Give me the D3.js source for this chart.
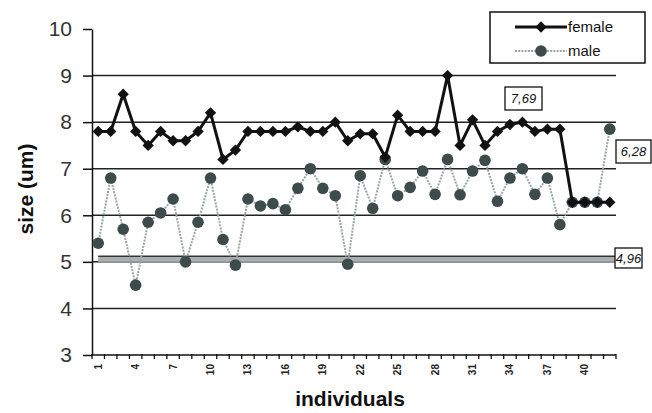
<!DOCTYPE html>
<html>
<head>
<meta charset="utf-8">
<script src="https://d3js.org/d3.v7.min.js"></script>
<style>
  body { margin: 0; background: #fff; }
  text { font-family: "Liberation Sans", Arial, sans-serif; }
</style>
</head>
<body>
<svg id="chart" width="652" height="413"></svg>
<script>
// data
const individuals = [1,2,3,4,5,6,7,8,9,10,11,12,13,14,15,16,17,18,19,20,21,
                     22,23,24,25,26,27,28,29,30,31,32,33,34,35,36,37,38,39,40,41,42];
const female = [7.8,7.8,8.6,7.8,7.5,7.8,7.6,7.6,7.8,8.2,7.2,7.4,7.8,7.8,7.8,7.8,7.9,7.8,7.8,8.0,7.6,
                7.75,7.75,7.25,8.15,7.8,7.8,7.8,9.0,7.5,8.05,7.5,7.8,7.95,8.0,7.8,7.85,7.85,6.28,6.28,6.28,6.28];
const male = [5.4,6.8,5.7,4.5,5.85,6.05,6.35,5.0,5.85,6.8,5.48,4.93,6.35,6.2,6.25,6.12,6.58,7.0,6.58,6.42,4.95,
              6.85,6.15,7.2,6.42,6.6,6.95,6.45,7.2,6.44,6.95,7.18,6.3,6.8,7.0,6.45,6.8,5.8,6.28,6.28,6.28,7.85];
const yTicks = [3,4,5,6,7,8,9,10];
const xTickLabels = [1,4,7,10,13,16,19,22,25,28,31,34,37,40];
const gridValues = [4,5,6,7,8,9];
const refValue = 5.12;
const notes = ["7,69", "6,28", "4,96"];

const svg = d3.select("#chart");
const plotLeft = 92, plotRight = 616, plotTop = 29, plotBottom = 355;

const x = d3.scaleBand().domain(individuals).range([plotLeft, plotRight]);
const bw = x.bandwidth();
const cx = i => x(i) + bw / 2;
const y = d3.scaleLinear().domain([3, 10]).range([plotBottom, plotTop]);

// horizontal grid lines
svg.append("g").selectAll("line")
  .data(gridValues)
  .enter().append("line")
  .attr("x1", plotLeft).attr("x2", plotRight)
  .attr("y1", d => y(d)).attr("y2", d => y(d))
  .attr("stroke", "#222").attr("stroke-width", 1.5);

// double reference line near 5
svg.append("rect")
  .attr("x", cx(1)).attr("width", plotRight - cx(1))
  .attr("y", y(refValue)).attr("height", y(5) - y(refValue))
  .attr("fill", "#a9b0b0");
svg.append("line")
  .attr("x1", cx(1)).attr("x2", plotRight)
  .attr("y1", y(refValue)).attr("y2", y(refValue))
  .attr("stroke", "#333").attr("stroke-width", 1.5);

// y axis
const yAxis = svg.append("g")
  .attr("transform", `translate(${plotLeft},0)`)
  .call(d3.axisLeft(y).tickValues(yTicks).tickFormat(d3.format("d"))
    .tickSize(9).tickSizeOuter(0).tickPadding(11));
yAxis.select(".domain").attr("stroke", "#111").attr("stroke-width", 1.5);
yAxis.selectAll(".tick line").attr("stroke", "#111").attr("stroke-width", 1.5);
yAxis.selectAll(".tick text")
  .style("font-family", "'Liberation Sans', Arial, sans-serif")
  .style("font-size", "21px").attr("fill", "#333");

// x axis: ticks between categories
svg.append("line")
  .attr("x1", plotLeft).attr("x2", plotRight)
  .attr("y1", plotBottom).attr("y2", plotBottom)
  .attr("stroke", "#111").attr("stroke-width", 1.5);
const bounds = individuals.map(d => x(d)).concat([plotRight]);
svg.append("g").selectAll("line")
  .data(bounds)
  .enter().append("line")
  .attr("x1", d => d).attr("x2", d => d)
  .attr("y1", plotBottom - 1).attr("y2", plotBottom + 4)
  .attr("stroke", "#111").attr("stroke-width", 1.3);
svg.append("g").selectAll("text")
  .data(xTickLabels)
  .enter().append("text")
  .attr("x", d => cx(d)).attr("y", 364)
  .attr("transform", d => `rotate(-90,${cx(d)},364)`)
  .attr("text-anchor", "end").attr("dy", "0.35em")
  .style("font-size", "10px").style("font-weight", "bold")
  .attr("fill", "#222")
  .text(d => d);

// axis titles
svg.append("text")
  .attr("transform", "translate(33,189) rotate(-90)")
  .attr("text-anchor", "middle")
  .style("font-size", "21px").style("font-weight", "bold").attr("fill", "#111")
  .text("size (um)");
svg.append("text")
  .attr("x", 350).attr("y", 406)
  .attr("text-anchor", "middle")
  .style("font-size", "21px").style("font-weight", "bold").attr("fill", "#111")
  .text("individuals");

// male series
const maleLine = d3.line().x((d, i) => cx(individuals[i])).y(d => y(d));
svg.append("path")
  .attr("d", maleLine(male))
  .attr("fill", "none").attr("stroke", "#9aa4a4")
  .attr("stroke-width", 2).attr("stroke-dasharray", "2,1.2");
svg.append("g").selectAll("circle")
  .data(male)
  .enter().append("circle")
  .attr("cx", (d, i) => cx(individuals[i])).attr("cy", d => y(d))
  .attr("r", 5.8).attr("fill", "#3e4b4b");

// female series
const femaleLine = d3.line().x((d, i) => cx(individuals[i])).y(d => y(d));
svg.append("path")
  .attr("d", femaleLine(female))
  .attr("fill", "none").attr("stroke", "#111").attr("stroke-width", 3);
const diamond = d3.symbol(d3.symbolSquare, 64);
svg.append("g").selectAll("path")
  .data(female)
  .enter().append("path")
  .attr("d", diamond)
  .attr("transform", (d, i) => `translate(${cx(individuals[i])},${y(d)}) rotate(45)`)
  .attr("fill", "#111");

// annotation boxes
function note(label, bx, by, w, h) {
  svg.append("rect")
    .attr("x", bx).attr("y", by).attr("width", w).attr("height", h)
    .attr("fill", "#fff").attr("stroke", "#111").attr("stroke-width", 1.3);
  svg.append("text")
    .attr("x", bx + w / 2).attr("y", by + h / 2).attr("dy", "0.35em")
    .attr("text-anchor", "middle")
    .style("font-size", "13px").style("font-style", "italic").attr("fill", "#111")
    .text(label);
}
note(notes[0], 505, 87, 37, 23);
note(notes[1], 616, 140, 35, 23);
note(notes[2], 615, 248, 27, 20);

// legend
const lg = svg.append("g");
lg.append("rect")
  .attr("x", 490).attr("y", 12).attr("width", 155).attr("height", 51)
  .attr("fill", "#fff").attr("stroke", "#111").attr("stroke-width", 1.5);
lg.append("line")
  .attr("x1", 515).attr("x2", 567).attr("y1", 27).attr("y2", 27)
  .attr("stroke", "#111").attr("stroke-width", 3);
lg.append("path").attr("d", diamond)
  .attr("transform", "translate(541,27) rotate(45)").attr("fill", "#111");
lg.append("line")
  .attr("x1", 515).attr("x2", 567).attr("y1", 51).attr("y2", 51)
  .attr("stroke", "#9aa4a4").attr("stroke-width", 2).attr("stroke-dasharray", "2,1.2");
lg.append("circle").attr("cx", 541).attr("cy", 51).attr("r", 5.8).attr("fill", "#3e4b4b");
lg.append("text").attr("x", 568).attr("y", 32)
  .style("font-size", "15px").attr("fill", "#111").text("female");
lg.append("text").attr("x", 568).attr("y", 56)
  .style("font-size", "15px").attr("fill", "#111").text("male");
</script>
</body>
</html>
